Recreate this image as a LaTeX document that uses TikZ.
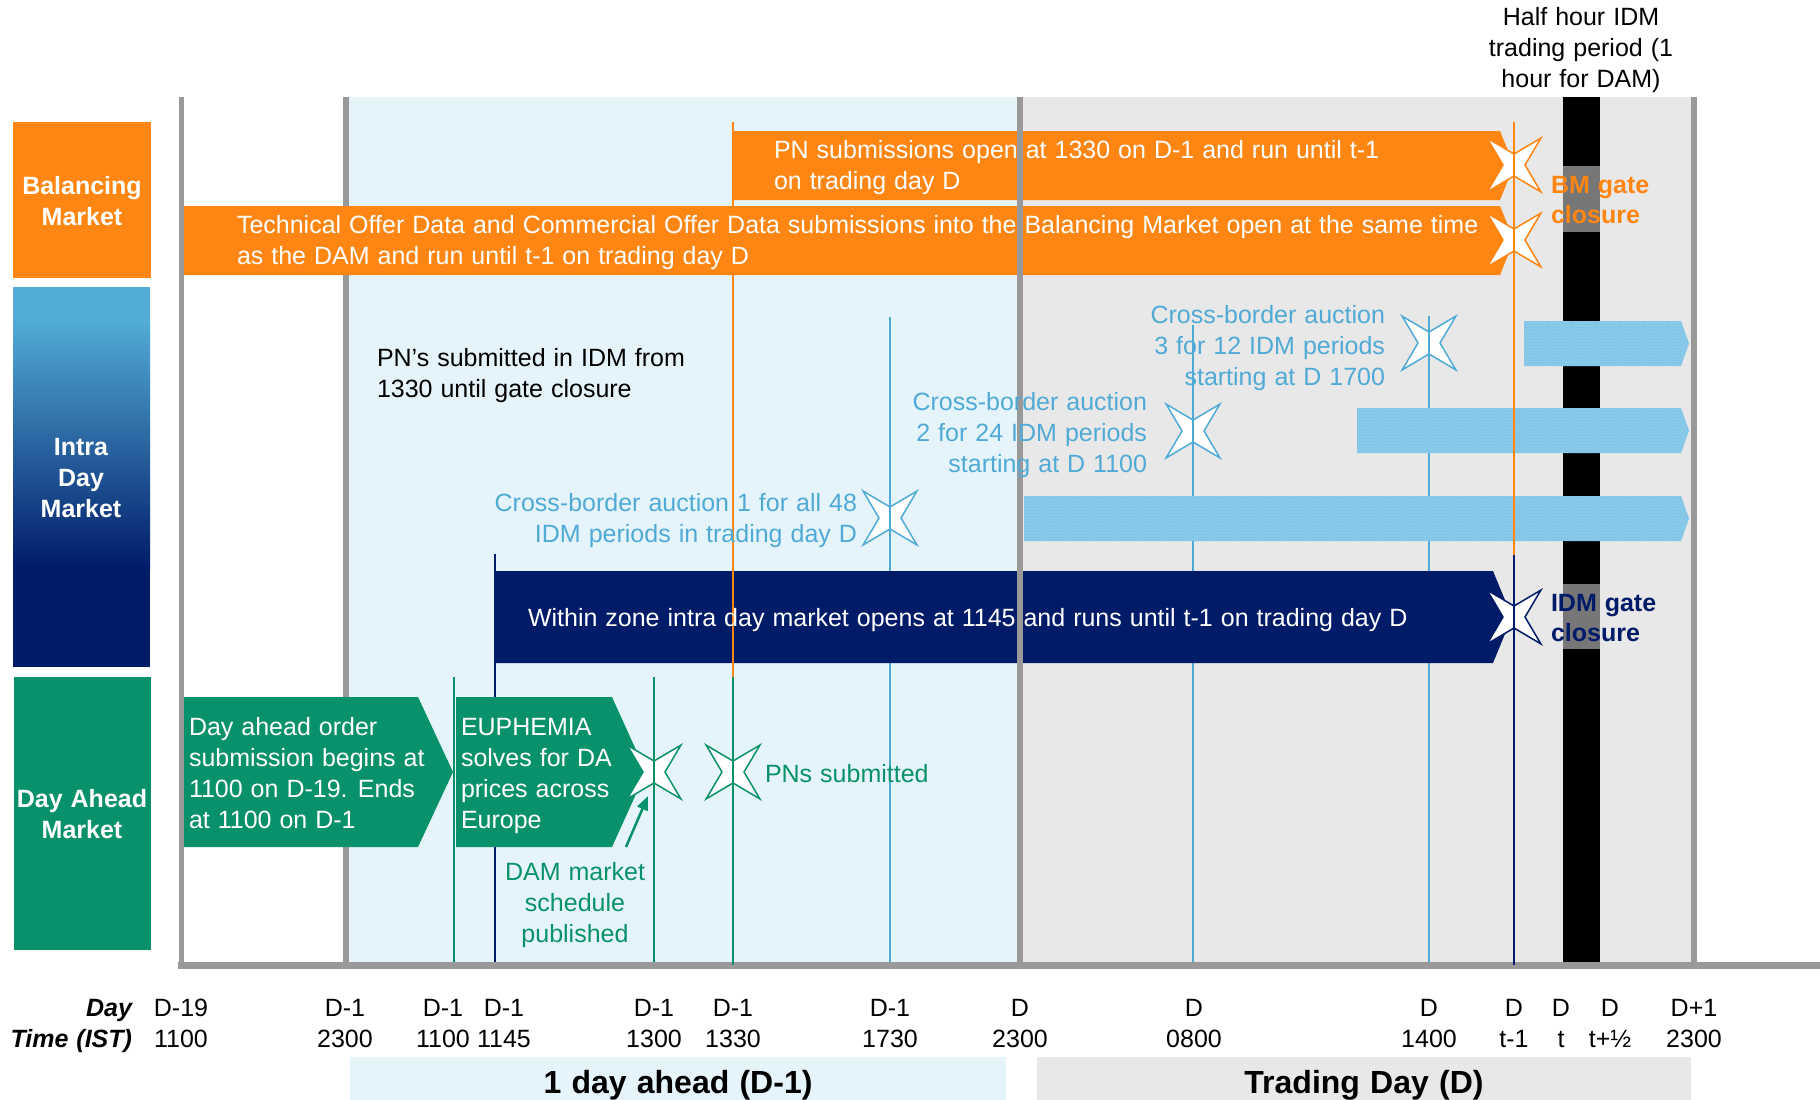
\documentclass[tikz,border=0pt]{standalone}
\usepackage{fontspec}
\setmainfont[WordSpace=1.15]{Liberation Sans}
\usetikzlibrary{patterns,arrows.meta}
\definecolor{orng}{RGB}{255,134,18}
\definecolor{navy}{RGB}{0,27,104}
\definecolor{grn}{RGB}{8,145,106}
\definecolor{lblue}{RGB}{80,170,214}
\definecolor{bgblue}{RGB}{229,244,251}
\definecolor{bggray}{RGB}{232,232,232}
\definecolor{axgray}{RGB}{153,153,153}
\definecolor{patchgray}{RGB}{119,119,119}
\definecolor{hatchbase}{RGB}{140,203,233}
\definecolor{hatchdot}{RGB}{108,185,226}
\definecolor{idmtop}{RGB}{82,172,215}
\tikzset{pics/xstar/.style={code={
  \path[fill=white, draw=#1, line width=1.5pt, line join=miter]
    (45:38) -- (90:11) -- (135:38) -- (180:11) -- (225:38) -- (270:11) -- (315:38) -- (0:11) -- cycle;
  \draw[#1, line width=2pt] (0,-27) -- (0,27);
}}}
\begin{document}
\begin{tikzpicture}[x=1pt,y=-1pt,
  every node/.style={inner sep=0pt, outer sep=0pt},
  txt/.style={font=\fontsize{25}{31}\selectfont},
  wtxt/.style={txt, text=white, align=left, anchor=base west},
  lbl/.style={font=\fontsize{25}{31}\selectfont\bfseries, text=white, align=center, anchor=base},
  cbtxt/.style={txt, text=lblue, align=right, anchor=base east},
  gate/.style={font=\fontsize{25}{30}\selectfont\bfseries, align=left, anchor=base west},
  axl/.style={txt, align=center, anchor=base},
  banner/.style={font=\fontsize{32}{38}\selectfont\bfseries, anchor=base},
  gline/.style={axgray, line width=5.5pt},
  mline/.style={line width=2pt},
  hatch/.style={fill=hatchbase, postaction={pattern=crosshatch dots, pattern color=hatchdot}},
]
\useasboundingbox (0,0) rectangle (1820,1100);
\fill[white] (0,0) rectangle (1820,1100);

% backgrounds
\fill[bgblue] (346,97) rectangle (1020,965);
\fill[bggray] (1020,97) rectangle (1694,965);
\fill[black] (1563,97) rectangle (1600,965);
\fill[patchgray] (1563,166) rectangle (1600,232);
\fill[patchgray] (1563,584) rectangle (1600,649);

% left label boxes
\fill[orng] (13,122) rectangle (151,278);
\fill[idmtop] (13,287) rectangle (150,321);
\shade[top color=idmtop, bottom color=navy] (13,320) rectangle (150,570);
\fill[navy] (13,569.5) rectangle (150,667);
\fill[grn] (14,677) rectangle (151,950);
\node[lbl] (bmlbl) at (82,225) {Balancing\\Market};
\node[lbl] (idmlbl) at (81,517) {Intra\\Day\\Market};
\node[lbl] (damlbl) at (82,838) {Day Ahead\\Market};

% gray line behind bars
\draw[gline] (346,97) -- (346,965);

% marker lines under bars
\draw[lblue, mline] (890,317) -- (890,965);
\draw[lblue, mline] (1193,325) -- (1193,965);
\draw[lblue, mline] (1429,317) -- (1429,965);
\draw[navy, mline] (495,554) -- (495,965);
\draw[grn, mline] (454,677) -- (454,965);
\draw[grn, mline] (654,677) -- (654,965);

% bars
\fill[orng] (733,131) -- (1500,131) -- (1514,165.5) -- (1500,200) -- (733,200) -- cycle;
\fill[orng] (183,206) -- (1500,206) -- (1514,240.5) -- (1500,275) -- (183,275) -- cycle;
\path[hatch] (1524,321) -- (1681,321) -- (1689,343.5) -- (1681,366) -- (1524,366) -- cycle;
\path[hatch] (1357,408) -- (1681,408) -- (1689,430.5) -- (1681,453) -- (1357,453) -- cycle;
\path[hatch] (1024,496) -- (1681,496) -- (1689,518.5) -- (1681,541) -- (1024,541) -- cycle;
\fill[navy] (495,571) -- (1493,571) -- (1512,617) -- (1493,663) -- (495,663) -- cycle;
\fill[grn] (183,697) -- (418,697) -- (453,772) -- (418,847) -- (183,847) -- cycle;
\fill[grn] (456,697) -- (612,697) -- (646,772) -- (612,847) -- (456,847) -- cycle;

% gray lines over bars
\draw[axgray, line width=5pt] (181,97) -- (181,965);
\draw[gline] (1020,97) -- (1020,965);
\draw[gline] (1694,97) -- (1694,965);
\draw[axgray, line width=7pt] (178,965) -- (1820,965);

% stars
\pic at (1514,165) {xstar=orng};
\pic at (1514,240) {xstar=orng};
\pic at (1514,617) {xstar=navy};
\pic at (890,518) {xstar=lblue};
\pic at (1193,431) {xstar=lblue};
\pic at (1429,343) {xstar=lblue};
\pic at (654,772) {xstar=grn};
\pic at (733,772) {xstar=grn};

% marker lines over
\draw[orng, mline] (733,122) -- (733,677);
\draw[grn, mline] (733,677) -- (733,965);
\draw[orng, mline] (1514,122) -- (1514,555);
\draw[navy, mline] (1514,555) -- (1514,965);

% texts (base anchor = last line baseline)
\node[txt, align=center, anchor=base] (hh) at (1581,87) {\fontsize{25}{29.5}\selectfont Half hour IDM\\trading period (1\\hour for DAM)};
\node[wtxt] (pn) at (774,189) {PN submissions open at 1330 on D-1 and run until t-1\\on trading day D};
\node[wtxt] (tod) at (237,264) {Technical Offer Data and Commercial Offer Data submissions into the Balancing Market open at the same time\\as the DAM and run until t-1 on trading day D};
\node[gate, text=orng] (bmg) at (1551,223) {BM gate\\closure};
\node[gate, text=navy] (idmg) at (1551,641) {IDM gate\\closure};
\node[txt, align=left, anchor=base west] (pnidm) at (377,397) {PN’s submitted in IDM from\\1330 until gate closure};
\node[cbtxt] (cb3) at (1385,385) {Cross-border auction\\3 for 12 IDM periods\\starting at D 1700};
\node[cbtxt] (cb2) at (1147,472) {Cross-border auction\\2 for 24 IDM periods\\starting at D 1100};
\node[cbtxt] (cb1) at (857,542) {Cross-border auction 1 for all 48\\IDM periods in trading day D};
\node[wtxt] (wz) at (528,626) {Within zone intra day market opens at 1145 and runs until t-1 on trading day D};
\node[wtxt] (dao) at (189,828) {Day ahead order\\submission begins at\\1100 on D-19. Ends\\at 1100 on D-1};
\node[wtxt] (eu) at (461,828) {EUPHEMIA\\solves for DA\\prices across\\Europe};
\node[txt, text=grn, anchor=base west] (pns) at (765,782) {PNs submitted};
\node[txt, text=grn, align=center, anchor=base] (damsch) at (575,942) {\fontsize{25}{30.5}\selectfont DAM market\\schedule\\published};

% arrow
\coordinate (arrS) at (626,847);
\coordinate (arrE) at (648,796);
\draw[grn, line width=2.5pt, -{Triangle[length=14pt,width=11pt]}] (arrS) -- (arrE);

% axis labels
\node[txt, font=\fontsize{25}{31}\selectfont\bfseries\itshape, align=right, anchor=base east] (dayt) at (132,1047) {Day\\Time (IST)};
\node[axl] (a1) at (181,1047) {D-19\\1100};
\node[axl] (a2) at (345,1047) {D-1\\2300};
\node[axl] (a3) at (443,1047) {D-1\\1100};
\node[axl] (a4) at (504,1047) {D-1\\1145};
\node[axl] (a5) at (654,1047) {D-1\\1300};
\node[axl] (a6) at (733,1047) {D-1\\1330};
\node[axl] (a7) at (890,1047) {D-1\\1730};
\node[axl] (a8) at (1020,1047) {D\\2300};
\node[axl] (a9) at (1194,1047) {D\\0800};
\node[axl] (a10) at (1429,1047) {D\\1400};
\node[axl] (a11) at (1514,1047) {D\\t-1};
\node[axl] (a12) at (1561,1047) {D\\t};
\node[axl] (a13) at (1610,1047) {D\\t+½};
\node[axl] (a14) at (1694,1047) {D+1\\2300};

% banners
\fill[bgblue] (350,1057) rectangle (1006,1100);
\node[banner] (b1) at (678,1093) {1 day ahead (D-1)};
\fill[bggray] (1037,1057) rectangle (1691,1100);
\node[banner] (b2) at (1364,1093) {Trading Day (D)};
\end{tikzpicture}
\end{document}
